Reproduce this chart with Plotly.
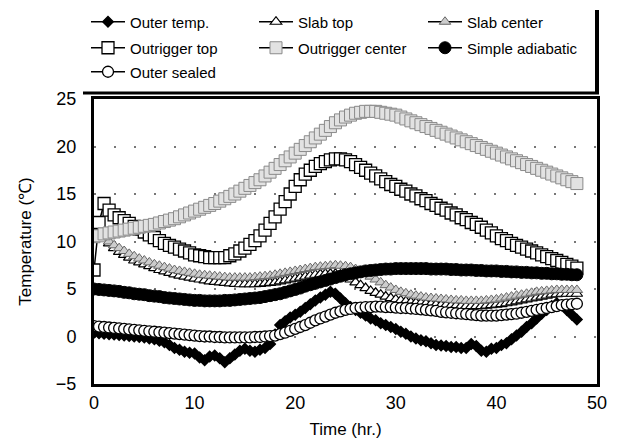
import plotly.graph_objects as go

# ---- data (time step 0.5 hr) ----
time_hr = [i * 0.5 for i in range(97)]

outer_temp = [
    0.4, 0.35, 0.3, 0.25, 0.2, 0.15, 0.1, 0.05, 0.0, -0.05,
    -0.1, -0.2, -0.3, -0.45, -0.6, -0.9, -1.2, -1.4, -1.6, -1.7,
    -1.8, -2.2, -2.5, -2.1, -2.0, -2.3, -2.7, -2.3, -1.9, -1.5,
    -1.3, -1.5, -1.6, -1.4, -1.2, -0.8, 0.2, 1.2, 1.6, 2.0,
    2.3, 2.6, 3.0, 3.4, 3.8, 4.1, 4.4, 4.7, 4.5, 4.0,
    3.5, 3.1, 2.8, 2.5, 2.2, 1.9, 1.7, 1.4, 1.2, 1.0,
    0.8, 0.5, 0.3, 0.0, -0.2, -0.4, -0.5, -0.7, -0.9, -0.95,
    -1.0, -1.1, -1.1, -1.2, -1.2, -0.8, -1.0, -1.5, -1.6, -1.3,
    -1.2, -0.9, -0.7, -0.3, 0.1, 0.5, 1.0, 1.4, 1.9, 2.4,
    2.8, 3.2, 3.5, 3.3, 2.8, 2.3, 1.8]

slab_top = [
    10.5, 11.5, 10.5, 9.8, 9.3, 8.9, 8.6, 8.3, 8.0, 7.8,
    7.6, 7.4, 7.2, 7.0, 6.85, 6.7, 6.55, 6.4, 6.3, 6.2,
    6.1, 6.0, 5.9, 5.8, 5.75, 5.7, 5.65, 5.6, 5.55, 5.5,
    5.5, 5.5, 5.5, 5.55, 5.6, 5.65, 5.7, 5.8, 5.9, 6.0,
    6.1, 6.2, 6.3, 6.4, 6.5, 6.55, 6.6, 6.6, 6.6, 6.5,
    6.3, 6.0, 5.7, 5.4, 5.1, 4.8, 4.6, 4.4, 4.2, 4.05,
    3.9, 3.8, 3.7, 3.6, 3.55, 3.5, 3.45, 3.4, 3.35, 3.3,
    3.3, 3.25, 3.25, 3.2, 3.2, 3.2, 3.2, 3.2, 3.25, 3.3,
    3.35, 3.4, 3.5, 3.6, 3.7, 3.8, 3.9, 4.0, 4.1, 4.2,
    4.3, 4.4, 4.45, 4.5, 4.5, 4.5, 4.5]

slab_center = [
    10.3, 10.8, 10.4, 10.0, 9.6, 9.3, 9.0, 8.7, 8.45, 8.2,
    8.0, 7.8, 7.6, 7.45, 7.3, 7.15, 7.0, 6.9, 6.8, 6.7,
    6.6, 6.5, 6.45, 6.4, 6.35, 6.3, 6.25, 6.2, 6.2, 6.2,
    6.2, 6.2, 6.25, 6.3, 6.35, 6.4, 6.5, 6.6, 6.7, 6.8,
    6.9, 7.0, 7.1, 7.2, 7.3, 7.35, 7.4, 7.45, 7.5, 7.45,
    7.4, 7.3, 7.1, 6.9, 6.6, 6.3, 6.0, 5.7, 5.4, 5.15,
    4.9, 4.7, 4.55, 4.4, 4.3, 4.2, 4.1, 4.05, 4.0, 3.95,
    3.9, 3.85, 3.8, 3.8, 3.75, 3.75, 3.75, 3.75, 3.8, 3.85,
    3.9, 4.0, 4.1, 4.2, 4.3, 4.4, 4.5, 4.6, 4.7, 4.75,
    4.8, 4.85, 4.9, 4.9, 4.9, 4.9, 4.9]

outrigger_top = [
    7.0, 12.0, 14.0, 13.3, 12.8, 12.5, 12.2, 11.9, 11.6, 11.3,
    11.0, 10.7, 10.4, 10.1, 9.8, 9.6, 9.4, 9.2, 9.0, 8.8,
    8.6, 8.5, 8.4, 8.3, 8.3, 8.3, 8.3, 8.5, 8.7, 9.0,
    9.3, 9.7, 10.1, 10.6, 11.2, 11.9, 12.6, 13.4, 14.2, 15.0,
    15.8, 16.5, 17.1, 17.5, 17.9, 18.2, 18.4, 18.6, 18.7, 18.7,
    18.6, 18.4, 18.1, 17.8, 17.5, 17.2, 16.9, 16.6, 16.3, 16.0,
    15.8, 15.5, 15.3, 15.0, 14.8, 14.5, 14.3, 14.0, 13.8, 13.5,
    13.3, 13.0, 12.8, 12.5, 12.3, 12.0, 11.8, 11.5, 11.2, 10.9,
    10.6, 10.3, 10.1, 9.8, 9.6, 9.4, 9.2, 9.0, 8.8, 8.6,
    8.4, 8.2, 8.0, 7.8, 7.6, 7.4, 7.2]

outrigger_center = [
    10.5, 10.6, 10.8, 10.9, 11.0, 11.1, 11.2, 11.3, 11.4, 11.5,
    11.6, 11.7, 11.8, 11.95, 12.1, 12.25, 12.4, 12.6, 12.8, 13.0,
    13.2, 13.4, 13.6, 13.8, 14.0, 14.25, 14.5, 14.75, 15.0, 15.3,
    15.6, 15.9, 16.2, 16.5, 16.9, 17.3, 17.7, 18.1, 18.5, 18.9,
    19.3, 19.7, 20.1, 20.5, 20.9, 21.3, 21.7, 22.1, 22.5, 22.8,
    23.1, 23.3, 23.5, 23.6, 23.7, 23.7, 23.7, 23.6, 23.5, 23.4,
    23.3, 23.1, 22.9, 22.7, 22.5, 22.3, 22.1, 21.9, 21.7, 21.5,
    21.3, 21.1, 20.9, 20.7, 20.5, 20.3, 20.1, 19.9, 19.7, 19.5,
    19.3, 19.1, 18.9, 18.7, 18.5, 18.3, 18.1, 17.9, 17.7, 17.5,
    17.3, 17.1, 16.9, 16.7, 16.5, 16.3, 16.1]

simple_adiabatic = [
    5.0, 4.95, 4.9, 4.85, 4.8, 4.75, 4.65, 4.6, 4.5, 4.45,
    4.4, 4.3, 4.25, 4.2, 4.1, 4.05, 4.0, 3.95, 3.9, 3.85,
    3.8, 3.8, 3.75, 3.75, 3.75, 3.75, 3.8, 3.8, 3.85, 3.9,
    3.95, 4.0, 4.05, 4.1, 4.2, 4.3, 4.4, 4.5, 4.65, 4.8,
    4.95, 5.1, 5.3, 5.45, 5.6, 5.75, 5.9, 6.05, 6.2, 6.35,
    6.5, 6.6, 6.7, 6.8, 6.9, 6.95, 7.0, 7.05, 7.1, 7.1,
    7.15, 7.15, 7.15, 7.15, 7.15, 7.15, 7.15, 7.1, 7.1, 7.1,
    7.1, 7.05, 7.05, 7.0, 7.0, 7.0, 6.95, 6.95, 6.9, 6.9,
    6.9, 6.85, 6.85, 6.8, 6.8, 6.75, 6.75, 6.7, 6.7, 6.65,
    6.65, 6.6, 6.6, 6.55, 6.55, 6.5, 6.5]

outer_sealed = [
    1.1, 1.05, 1.0, 0.95, 0.9, 0.85, 0.8, 0.75, 0.7, 0.65,
    0.6, 0.55, 0.5, 0.45, 0.4, 0.35, 0.3, 0.25, 0.2, 0.15,
    0.1, 0.05, 0.0, 0.0, -0.05, -0.05, -0.1, -0.1, -0.1, -0.1,
    -0.1, -0.1, -0.05, -0.05, 0.0, 0.05, 0.1, 0.25, 0.4, 0.6,
    0.8, 1.0, 1.2, 1.45, 1.7, 1.9, 2.1, 2.3, 2.5, 2.65,
    2.8, 2.9, 3.0, 3.05, 3.1, 3.1, 3.15, 3.15, 3.1, 3.1,
    3.05, 3.0, 3.0, 2.95, 2.9, 2.85, 2.8, 2.75, 2.7, 2.6,
    2.55, 2.5, 2.45, 2.4, 2.35, 2.3, 2.25, 2.2, 2.2, 2.2,
    2.2, 2.25, 2.3, 2.35, 2.4, 2.5, 2.6, 2.7, 2.8, 2.9,
    3.0, 3.1, 3.2, 3.3, 3.35, 3.4, 3.45]

series_names = ["Outer temp.", "Slab top", "Slab center", "Outrigger top",
                "Outrigger center", "Simple adiabatic", "Outer sealed"]
y_ticks = [-5, 0, 5, 10, 15, 20, 25]
x_ticks = [0, 10, 20, 30, 40, 50]

# ---- styles ----
styles = [
    dict(symbol="diamond", size=8, color="black", lc="black", lw=1.5),
    dict(symbol="triangle-up", size=10, color="white", lc="black", lw=1.2),
    dict(symbol="triangle-up", size=10, color="#cdcdcd", lc="#666666", lw=1),
    dict(symbol="square", size=12, color="white", lc="black", lw=1.3),
    dict(symbol="square", size=12, color="#e2e2e2", lc="#8a8a8a", lw=1),
    dict(symbol="circle", size=12, color="black", lc="black", lw=1),
    dict(symbol="circle", size=11, color="white", lc="black", lw=1.3),
]
values = [outer_temp, slab_top, slab_center, outrigger_top,
          outrigger_center, simple_adiabatic, outer_sealed]
legend_ids = ["legend", "legend2", "legend3", "legend4",
              "legend5", "legend6", "legend7"]

fig = go.Figure()
for name, vals, st, lid in zip(series_names, values, styles, legend_ids):
    fig.add_trace(go.Scatter(
        x=time_hr, y=vals, name=name, mode="lines+markers",
        line=dict(color="black", width=1.5),
        marker=dict(symbol=st["symbol"], size=st["size"], color=st["color"],
                    line=dict(color=st["lc"], width=st["lw"])),
        legend=lid,
    ))

# The page body adds an 8px margin, so the figure is laid out 8px smaller
# and all screen-pixel targets are shifted by that offset.
OFF = 8
WIN_W, WIN_H = 617, 447
W, H = WIN_W - OFF, WIN_H - OFF
# plot-area edges in screen pixels
SL, SR, ST, SB = 94, 597, 99, 384
L, R, T, B = SL - OFF, SR - OFF, ST - OFF, SB - OFF
pw, ph = R - L, B - T


def px_x(sx):
    return (sx - OFF - L) / pw


def px_y(sy):
    return (B - (sy - OFF)) / ph


font_family = "Liberation Sans, Arial, sans-serif"
leg_common = dict(orientation="h", xanchor="left", yanchor="middle",
                  bgcolor="rgba(0,0,0,0)", borderwidth=0, itemwidth=34,
                  font=dict(family=font_family, size=15, color="black"),
                  itemclick=False, itemdoubleclick=False)
# legend cell positions (screen pixels): column left edges and row centres
col_px = [86, 254, 423]
row_px = [22, 48, 72]
cells = [(0, 0), (1, 0), (2, 0), (0, 1), (1, 1), (2, 1), (0, 2)]
legends = {}
for lid, (c, r) in zip(legend_ids, cells):
    legends[lid] = dict(leg_common, x=px_x(col_px[c]), y=px_y(row_px[r]))

fig.update_layout(
    width=W, height=H,
    margin=dict(l=L, r=W - R, t=T, b=H - B, pad=0, autoexpand=False),
    plot_bgcolor="white", paper_bgcolor="white",
    font=dict(family=font_family, color="black"),
    showlegend=True,
    **legends,
    xaxis=dict(range=[0, 50], tickvals=x_ticks, showgrid=False, zeroline=False,
               showline=True, mirror=True, linecolor="black", linewidth=3,
               ticks="", tickfont=dict(size=18), ticklabelstandoff=0,
               automargin=False,
               title=dict(text="Time (hr.)", font=dict(size=17), standoff=12)),
    yaxis=dict(range=[-5, 25], tickvals=y_ticks, showgrid=True,
               gridcolor="#777777", gridwidth=1.5, griddash="2px,18px",
               zeroline=False, showline=True, mirror=True, linecolor="black",
               linewidth=3, ticks="", tickfont=dict(size=18), ticklabelstandoff=11,
               automargin=False,
               title=dict(text="Temperature (℃)", font=dict(size=17), standoff=20)),
    shapes=[
        dict(type="line", xref="paper", yref="paper", x0=px_x(83), x1=px_x(597),
             y0=px_y(7), y1=px_y(7), line=dict(color="#555555", width=1.5, dash="6px,3px")),
        dict(type="line", xref="paper", yref="paper", x0=px_x(597), x1=px_x(597),
             y0=px_y(94), y1=px_y(10), line=dict(color="black", width=4)),
        dict(type="line", xref="paper", yref="paper", x0=px_x(83), x1=px_x(599),
             y0=px_y(93), y1=px_y(93), line=dict(color="black", width=3)),
    ],
)

fig.write_html("out.html")
